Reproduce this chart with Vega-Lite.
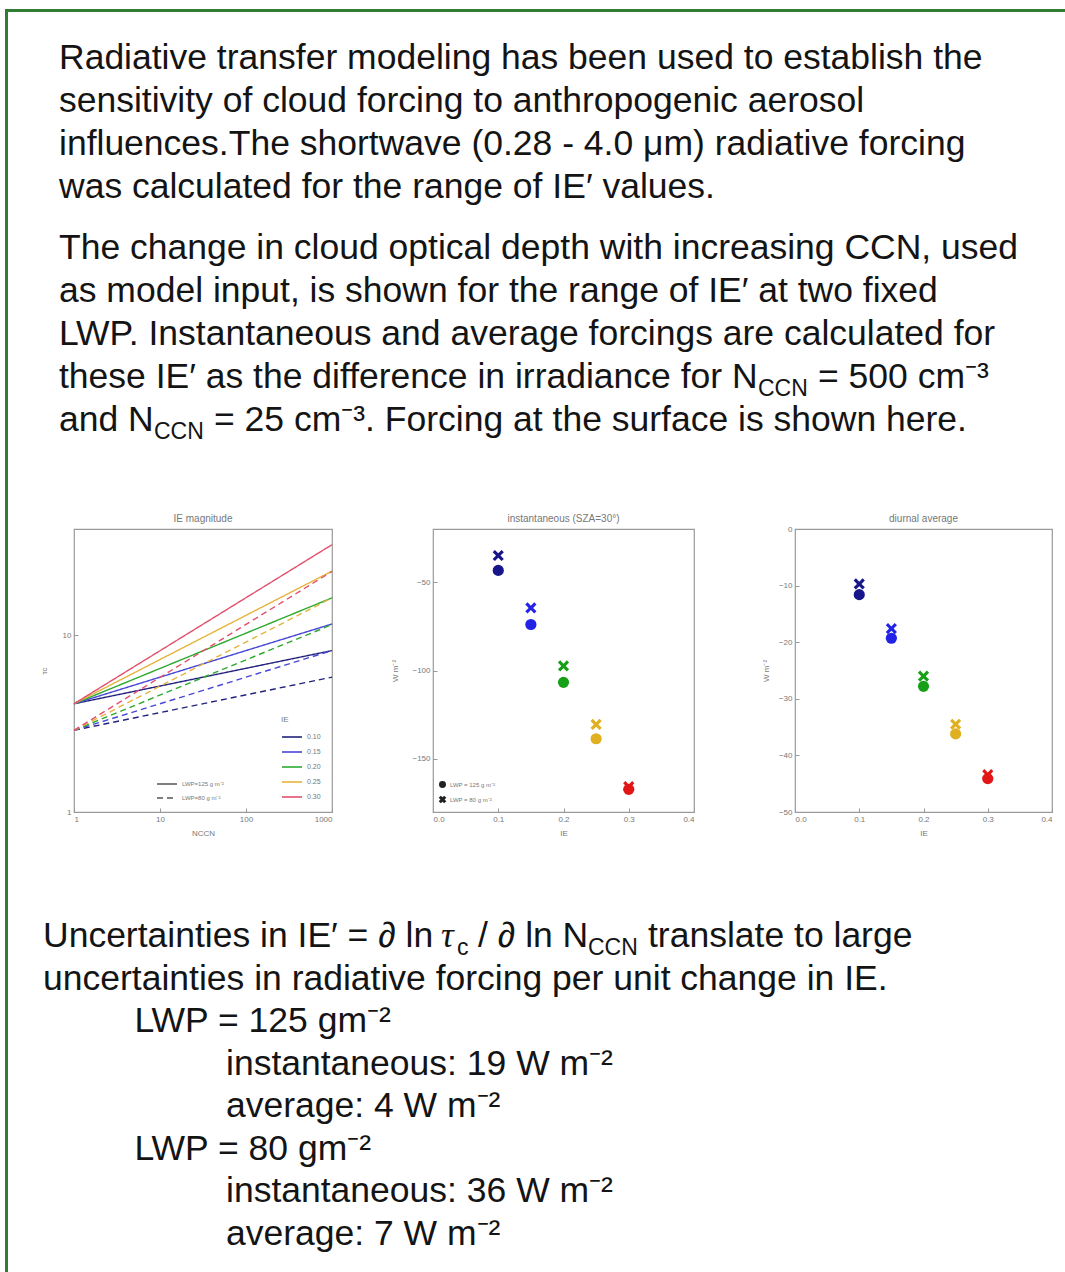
{
  "$schema": "https://vega.github.io/schema/vega-lite/v6.json",
  "padding": {"left": 5, "top": 9, "right": 0, "bottom": 0},
  "background": "white",
  "spacing": 0,
  "bounds": "flush",
  "config": {
    "view": {"stroke": null},
    "font": "Liberation Sans",
    "axis": {
      "grid": false,
      "domain": false,
      "labelFont": "Liberation Sans",
      "labelFontSize": 8,
      "labelColor": "#777",
      "titleFont": "Liberation Sans",
      "titleFontSize": 8,
      "titleFontWeight": "normal",
      "titleColor": "#777",
      "tickColor": "#999",
      "tickSize": -4,
      "labelPadding": 7
    },
    "title": {"font": "Liberation Sans", "fontSize": 10, "fontWeight": "normal", "color": "#777", "offset": 5},
    "legend": {"labelFont": "Liberation Sans", "labelFontSize": 7, "labelColor": "#777", "titleFont": "Liberation Sans", "titleFontSize": 8, "titleFontWeight": "normal", "titleColor": "#777"}
  },
  "datasets": {
    "header": [
      {"line": 1, "part": "lead", "text": "Radiative transfer modeling has been used to establish the"},
      {"line": 2, "part": "lead", "text": "sensitivity of cloud forcing to anthropogenic aerosol"},
      {"line": 3, "part": "lead", "text": "influences.The shortwave (0.28 - 4.0 μm) radiative forcing"},
      {"line": 4, "part": "lead", "text": "was calculated for the range of IE′ values."},
      {"line": 5, "part": "lead", "text": "The change in cloud optical depth with increasing CCN, used"},
      {"line": 6, "part": "lead", "text": "as model input, is shown for the range of IE′ at two fixed"},
      {"line": 7, "part": "lead", "text": "LWP. Instantaneous and average forcings are calculated for"},
      {"line": 8, "part": "lead", "text": "these IE′ as the difference in irradiance for N"},
      {"line": 8, "part": "sub", "text": "CCN"},
      {"line": 8, "part": "tail", "text": "= 500 cm⁻³"},
      {"line": 9, "part": "lead", "text": "and N"},
      {"line": 9, "part": "sub", "text": "CCN"},
      {"line": 9, "part": "tail", "text": "= 25 cm⁻³. Forcing at the surface is shown here."}
    ],
    "footer": [
      {"line": 1, "indent": 0, "part": "lead", "text": "Uncertainties in IE′ = ∂ ln"},
      {"line": 1, "indent": 0, "part": "tau", "text": "τ"},
      {"line": 1, "indent": 0, "part": "sub1", "text": "c"},
      {"line": 1, "indent": 0, "part": "mid", "text": "/ ∂ ln N"},
      {"line": 1, "indent": 0, "part": "sub2", "text": "CCN"},
      {"line": 1, "indent": 0, "part": "tail", "text": "translate to large"},
      {"line": 2, "indent": 0, "part": "lead", "text": "uncertainties in radiative forcing per unit change in IE."},
      {"line": 3, "indent": 1, "part": "lead", "text": "LWP = 125 gm⁻²"},
      {"line": 4, "indent": 2, "part": "lead", "text": "instantaneous: 19 W m⁻²"},
      {"line": 5, "indent": 2, "part": "lead", "text": "average: 4 W m⁻²"},
      {"line": 6, "indent": 1, "part": "lead", "text": "LWP = 80 gm⁻²"},
      {"line": 7, "indent": 2, "part": "lead", "text": "instantaneous: 36 W m⁻²"},
      {"line": 8, "indent": 2, "part": "lead", "text": "average: 7 W m⁻²"}
    ],
    "tau": [
      {"IE": "0.10", "LWP": "LWP=125 g m⁻²", "N": 1, "tau": 4.1},
      {"IE": "0.10", "LWP": "LWP=125 g m⁻²", "N": 1000, "tau": 8.2},
      {"IE": "0.15", "LWP": "LWP=125 g m⁻²", "N": 1, "tau": 4.1},
      {"IE": "0.15", "LWP": "LWP=125 g m⁻²", "N": 1000, "tau": 11.6},
      {"IE": "0.20", "LWP": "LWP=125 g m⁻²", "N": 1, "tau": 4.1},
      {"IE": "0.20", "LWP": "LWP=125 g m⁻²", "N": 1000, "tau": 16.3},
      {"IE": "0.25", "LWP": "LWP=125 g m⁻²", "N": 1, "tau": 4.1},
      {"IE": "0.25", "LWP": "LWP=125 g m⁻²", "N": 1000, "tau": 23.1},
      {"IE": "0.30", "LWP": "LWP=125 g m⁻²", "N": 1, "tau": 4.1},
      {"IE": "0.30", "LWP": "LWP=125 g m⁻²", "N": 1000, "tau": 32.6},
      {"IE": "0.10", "LWP": "LWP=80 g m⁻²", "N": 1, "tau": 2.9},
      {"IE": "0.10", "LWP": "LWP=80 g m⁻²", "N": 1000, "tau": 5.8},
      {"IE": "0.15", "LWP": "LWP=80 g m⁻²", "N": 1, "tau": 2.9},
      {"IE": "0.15", "LWP": "LWP=80 g m⁻²", "N": 1000, "tau": 8.2},
      {"IE": "0.20", "LWP": "LWP=80 g m⁻²", "N": 1, "tau": 2.9},
      {"IE": "0.20", "LWP": "LWP=80 g m⁻²", "N": 1000, "tau": 11.5},
      {"IE": "0.25", "LWP": "LWP=80 g m⁻²", "N": 1, "tau": 2.9},
      {"IE": "0.25", "LWP": "LWP=80 g m⁻²", "N": 1000, "tau": 16.3},
      {"IE": "0.30", "LWP": "LWP=80 g m⁻²", "N": 1, "tau": 2.9},
      {"IE": "0.30", "LWP": "LWP=80 g m⁻²", "N": 1000, "tau": 23.0}
    ],
    "instantaneous": [
      {"IE": 0.10, "LWP": "LWP = 80 g m⁻²", "W": -35.0},
      {"IE": 0.15, "LWP": "LWP = 80 g m⁻²", "W": -64.6},
      {"IE": 0.20, "LWP": "LWP = 80 g m⁻²", "W": -97.4},
      {"IE": 0.25, "LWP": "LWP = 80 g m⁻²", "W": -130.5},
      {"IE": 0.30, "LWP": "LWP = 80 g m⁻²", "W": -165.7},
      {"IE": 0.10, "LWP": "LWP = 125 g m⁻²", "W": -43.4},
      {"IE": 0.15, "LWP": "LWP = 125 g m⁻²", "W": -74.0},
      {"IE": 0.20, "LWP": "LWP = 125 g m⁻²", "W": -106.7},
      {"IE": 0.25, "LWP": "LWP = 125 g m⁻²", "W": -138.6},
      {"IE": 0.30, "LWP": "LWP = 125 g m⁻²", "W": -167.2}
    ],
    "diurnal": [
      {"IE": 0.10, "LWP": "LWP = 80 g m⁻²", "W": -9.7},
      {"IE": 0.15, "LWP": "LWP = 80 g m⁻²", "W": -17.6},
      {"IE": 0.20, "LWP": "LWP = 80 g m⁻²", "W": -26.0},
      {"IE": 0.25, "LWP": "LWP = 80 g m⁻²", "W": -34.5},
      {"IE": 0.30, "LWP": "LWP = 80 g m⁻²", "W": -43.4},
      {"IE": 0.10, "LWP": "LWP = 125 g m⁻²", "W": -11.6},
      {"IE": 0.15, "LWP": "LWP = 125 g m⁻²", "W": -19.3},
      {"IE": 0.20, "LWP": "LWP = 125 g m⁻²", "W": -27.8},
      {"IE": 0.25, "LWP": "LWP = 125 g m⁻²", "W": -36.2},
      {"IE": 0.30, "LWP": "LWP = 125 g m⁻²", "W": -44.1}
    ]
  },
  "hconcat": [
    {
      "width": 3,
      "height": 1263,
      "data": {"values": []},
      "mark": "rect",
      "view": {"fill": "#2e7d32", "stroke": null}
    },
    {
      "spacing": 0,
      "bounds": "flush",
      "vconcat": [
        {
          "width": 1057,
          "height": 3,
          "data": {"values": []},
          "mark": "rect",
          "view": {"fill": "#2e7d32", "stroke": null}
        },
        {
          "width": 1057,
          "height": 517,
          "data": {"name": "header"},
          "encoding": {
            "y": {"field": "line", "type": "quantitative", "scale": {"domain": [1, 9], "range": [57, 401]}, "axis": null},
            "text": {"field": "text"}
          },
          "layer": [
            {
              "transform": [{"filter": "datum.part == 'lead' && datum.line <= 4"}],
              "mark": {"type": "text", "align": "left", "baseline": "alphabetic", "fontSize": 35.5, "color": "#141414"},
              "encoding": {"x": {"value": 51}}
            },
            {
              "transform": [{"filter": "datum.part == 'lead' && datum.line >= 5"}],
              "mark": {"type": "text", "align": "left", "baseline": "alphabetic", "fontSize": 35.5, "color": "#141414", "dy": 18},
              "encoding": {"x": {"value": 51}}
            },
            {
              "transform": [{"filter": "datum.part == 'sub' && datum.line == 8"}],
              "mark": {"type": "text", "align": "left", "baseline": "alphabetic", "fontSize": 23, "color": "#141414", "dy": 26},
              "encoding": {"x": {"value": 750}}
            },
            {
              "transform": [{"filter": "datum.part == 'tail' && datum.line == 8"}],
              "mark": {"type": "text", "align": "left", "baseline": "alphabetic", "fontSize": 35.5, "color": "#141414", "dy": 18},
              "encoding": {"x": {"value": 810}}
            },
            {
              "transform": [{"filter": "datum.part == 'sub' && datum.line == 9"}],
              "mark": {"type": "text", "align": "left", "baseline": "alphabetic", "fontSize": 23, "color": "#141414", "dy": 26},
              "encoding": {"x": {"value": 146}}
            },
            {
              "transform": [{"filter": "datum.part == 'tail' && datum.line == 9"}],
              "mark": {"type": "text", "align": "left", "baseline": "alphabetic", "fontSize": 35.5, "color": "#141414", "dy": 18},
              "encoding": {"x": {"value": 206}}
            }
          ]
        },
        {
          "spacing": 0,
          "bounds": "flush",
          "hconcat": [
            {
              "width": 66,
              "height": 283,
              "data": {"values": []},
              "mark": "rect",
              "view": {"stroke": null}
            },
            {
              "spacing": 101,
              "bounds": "flush",
              "resolve": {
                "scale": {"color": "independent", "shape": "independent", "strokeDash": "independent"},
                "legend": {"color": "independent", "shape": "independent", "strokeDash": "independent"}
              },
              "hconcat": [
                {
                  "width": 258,
                  "height": 283,
                  "title": "IE magnitude",
                  "view": {"stroke": "#9a9a9a", "strokeWidth": 1.2},
                  "data": {"name": "tau"},
                  "mark": {"type": "line", "strokeWidth": 1.4},
                  "encoding": {
                    "x": {
                      "field": "N", "type": "quantitative",
                      "scale": {"type": "log", "domain": [1, 1000], "nice": false},
                      "axis": {"values": [1, 10, 100, 1000], "format": "d", "title": "NCCN", "titlePadding": 6}
                    },
                    "y": {
                      "field": "tau", "type": "quantitative",
                      "scale": {"type": "log", "domain": [1, 40], "nice": false},
                      "axis": {"values": [1, 10], "format": "d", "title": "τc", "titlePadding": 14}
                    },
                    "color": {
                      "field": "IE", "type": "nominal",
                      "scale": {"domain": ["0.10", "0.15", "0.20", "0.25", "0.30"], "range": ["#23237e", "#4747d8", "#2ea82e", "#e6b43c", "#e2506e"]},
                      "legend": {"title": "IE", "orient": "bottom-right", "offset": 11, "symbolType": "stroke", "symbolSize": 400, "symbolStrokeWidth": 1.6, "rowPadding": -7, "labelFontSize": 7, "titlePadding": 2}
                    },
                    "strokeDash": {
                      "field": "LWP", "type": "nominal",
                      "scale": {"domain": ["LWP=125 g m⁻²", "LWP=80 g m⁻²"], "range": [[1, 0], [6, 4]]},
                      "legend": {"title": null, "orient": "none", "legendX": 82, "legendY": 244, "symbolType": "stroke", "symbolSize": 400, "symbolStrokeColor": "#555", "symbolStrokeWidth": 1.4, "rowPadding": -9, "labelFontSize": 6}
                    }
                  }
                },
                {
                  "width": 261,
                  "height": 283,
                  "title": "instantaneous (SZA=30°)",
                  "view": {"stroke": "#9a9a9a", "strokeWidth": 1.2},
                  "data": {"name": "instantaneous"},
                  "mark": {"type": "point", "filled": true, "opacity": 1, "size": 125},
                  "encoding": {
                    "x": {
                      "field": "IE", "type": "quantitative",
                      "scale": {"domain": [0, 0.4], "nice": false},
                      "axis": {"values": [0, 0.1, 0.2, 0.3, 0.4], "format": ".1f", "title": "IE", "titlePadding": 6}
                    },
                    "y": {
                      "field": "W", "type": "quantitative",
                      "scale": {"domain": [-180, -20], "nice": false, "zero": false},
                      "axis": {"values": [-150, -100, -50], "title": "W m⁻²", "titlePadding": 12}
                    },
                    "color": {
                      "field": "IE", "type": "nominal",
                      "scale": {"domain": [0.1, 0.15, 0.2, 0.25, 0.3], "range": ["#16168a", "#2323e6", "#17a017", "#e0b020", "#e21616"]},
                      "legend": null
                    },
                    "shape": {
                      "field": "LWP", "type": "nominal",
                      "scale": {"domain": ["LWP = 125 g m⁻²", "LWP = 80 g m⁻²"], "range": ["circle", "M-1,-0.6L-0.6,-1L0,-0.4L0.6,-1L1,-0.6L0.4,0L1,0.6L0.6,1L0,0.4L-0.6,1L-1,0.6L-0.4,0Z"]},
                      "legend": {"title": null, "orient": "bottom-left", "offset": 6, "symbolSize": 30, "symbolFillColor": "#222", "symbolStrokeColor": "#222", "labelFontSize": 6, "rowPadding": 2}
                    }
                  }
                },
                {
                  "width": 257,
                  "height": 283,
                  "title": {"text": "diurnal average", "offset": 1},
                  "view": {"stroke": "#9a9a9a", "strokeWidth": 1.2},
                  "data": {"name": "diurnal"},
                  "mark": {"type": "point", "filled": true, "opacity": 1, "size": 125},
                  "encoding": {
                    "x": {
                      "field": "IE", "type": "quantitative",
                      "scale": {"domain": [0, 0.4], "nice": false},
                      "axis": {"values": [0, 0.1, 0.2, 0.3, 0.4], "format": ".1f", "title": "IE", "titlePadding": 6}
                    },
                    "y": {
                      "field": "W", "type": "quantitative",
                      "scale": {"domain": [-50, 0], "nice": false},
                      "axis": {"values": [-50, -40, -30, -20, -10, 0], "title": "W m⁻²", "titlePadding": 8}
                    },
                    "color": {
                      "field": "IE", "type": "nominal",
                      "scale": {"domain": [0.1, 0.15, 0.2, 0.25, 0.3], "range": ["#16168a", "#2323e6", "#17a017", "#e0b020", "#e21616"]},
                      "legend": null
                    },
                    "shape": {
                      "field": "LWP", "type": "nominal",
                      "scale": {"domain": ["LWP = 125 g m⁻²", "LWP = 80 g m⁻²"], "range": ["circle", "M-1,-0.6L-0.6,-1L0,-0.4L0.6,-1L1,-0.6L0.4,0L1,0.6L0.6,1L0,0.4L-0.6,1L-1,0.6L-0.4,0Z"]},
                      "legend": null
                    }
                  }
                }
              ]
            }
          ]
        },
        {
          "width": 1057,
          "height": 283,
          "data": {"values": []},
          "mark": "rect",
          "view": {"stroke": null}
        },
        {
          "width": 1057,
          "height": 460,
          "data": {"name": "footer"},
          "encoding": {
            "y": {"field": "line", "type": "quantitative", "scale": {"domain": [1, 8], "range": [135, 433]}, "axis": null},
            "text": {"field": "text"}
          },
          "layer": [
            {
              "transform": [{"filter": "datum.part == 'lead'"}],
              "mark": {"type": "text", "align": "left", "baseline": "alphabetic", "fontSize": 35.5, "color": "#141414"},
              "encoding": {"x": {"field": "indent", "type": "quantitative", "scale": {"domain": [0, 2], "range": [35, 218]}, "axis": null}}
            },
            {
              "transform": [{"filter": "datum.part == 'tau'"}],
              "mark": {"type": "text", "align": "left", "baseline": "alphabetic", "fontSize": 35.5, "font": "Liberation Serif", "fontStyle": "italic", "color": "#141414"},
              "encoding": {"x": {"value": 433}}
            },
            {
              "transform": [{"filter": "datum.part == 'sub1'"}],
              "mark": {"type": "text", "align": "left", "baseline": "alphabetic", "fontSize": 23, "color": "#141414", "dy": 8},
              "encoding": {"x": {"value": 449}}
            },
            {
              "transform": [{"filter": "datum.part == 'mid'"}],
              "mark": {"type": "text", "align": "left", "baseline": "alphabetic", "fontSize": 35.5, "color": "#141414"},
              "encoding": {"x": {"value": 470}}
            },
            {
              "transform": [{"filter": "datum.part == 'sub2'"}],
              "mark": {"type": "text", "align": "left", "baseline": "alphabetic", "fontSize": 23, "color": "#141414", "dy": 8},
              "encoding": {"x": {"value": 580}}
            },
            {
              "transform": [{"filter": "datum.part == 'tail'"}],
              "mark": {"type": "text", "align": "left", "baseline": "alphabetic", "fontSize": 35.5, "color": "#141414"},
              "encoding": {"x": {"value": 640}}
            }
          ]
        }
      ]
    }
  ]
}
